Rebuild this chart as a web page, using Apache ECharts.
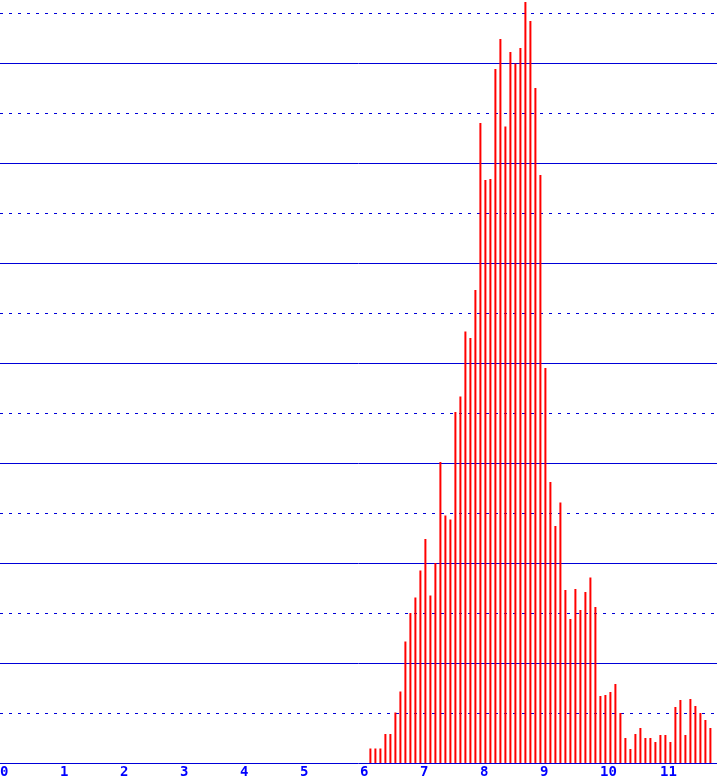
<!DOCTYPE html>
<html>
<head>
<meta charset="utf-8">
<script src="https://cdn.jsdelivr.net/npm/echarts@6/dist/echarts.min.js"></script>
<style>
  html, body { margin: 0; padding: 0; background: #fff; }
  #chart-container { width: 717px; height: 783px; }
</style>
</head>
<body>
<div id="chart-container"></div>
<script>
const chartDom = document.getElementById('chart-container');
const myChart = echarts.init(chartDom);

// bins are twelfths of a unit, first bin sits at 6 + 1/12
const firstBin = 6 + 1 / 12;
const binStep = 1 / 12;

// bar heights, in grid-line units (one gridline = 1)
const heights = [
    0.29, 0.29, 0.29, 0.58, 0.58, 1.01, 1.43, 2.43, 3.0, 3.31, 3.85,
    4.48, 3.35, 4.0, 6.02, 4.95, 4.87, 7.02, 7.33, 8.63, 8.5, 9.46, 12.8,
    11.66, 11.68, 13.88, 14.48, 12.73, 14.22, 13.99, 14.3, 15.22, 14.84, 13.5, 11.76,
    7.9, 5.62, 4.74, 5.21, 3.46, 2.88, 3.48, 3.06, 3.42, 3.71, 3.12, 1.34,
    1.36, 1.42, 1.58, 1.0, 0.5, 0.28, 0.58, 0.7, 0.5, 0.5, 0.42, 0.56,
    0.56, 0.42, 1.12, 1.26, 0.56, 1.28, 1.14, 1.0, 0.86, 0.7
];

const xTickValues = [0, 1, 2, 3, 4, 5, 6, 7, 8, 9, 10, 11];

const lineColor = '#0000d8';
const labelColor = '#0000ff';

const barData = heights.map((h, i) => [firstBin + i * binStep, h]);

const xMin = -0.09;
const xMax = 11.86;
const labelShift = 0.09; // labels start a little left of the tick
const yMax = 15.26;

const option = {
    animation: false,
    grid: { left: 0, right: 0, top: 0, bottom: 20, outerBoundsMode: 'none' },
    xAxis: [
        {
            type: 'value',
            min: xMin,
            max: xMax,
            axisLine: { show: true, lineStyle: { color: lineColor, width: 1 } },
            axisTick: { show: false },
            splitLine: { show: false },
            axisLabel: { show: false }
        },
        {
            // label-only axis, left aligned like the original
            type: 'value',
            position: 'bottom',
            min: xMin + labelShift,
            max: xMax + labelShift,
            axisLine: { show: false },
            axisTick: { show: false },
            splitLine: { show: false },
            axisLabel: {
                customValues: xTickValues,
                align: 'left',
                color: labelColor,
                fontFamily: 'DejaVu Sans Mono',
                fontWeight: 'bold',
                fontSize: 14,
                margin: 2
            }
        }
    ],
    yAxis: [
        {
            // dotted lines on every unit
            type: 'value',
            min: 0,
            max: yMax,
            interval: 1,
            axisLine: { show: false },
            axisTick: { show: false },
            axisLabel: { show: false },
            splitLine: {
                show: true,
                showMinLine: false,
                showMaxLine: false,
                lineStyle: { color: lineColor, width: 1, type: [3, 6] }
            }
        },
        {
            // solid lines on every second unit
            type: 'value',
            min: 0,
            max: yMax,
            interval: 2,
            position: 'left',
            axisLine: { show: false },
            axisTick: { show: false },
            axisLabel: { show: false },
            splitLine: {
                show: true,
                showMinLine: false,
                showMaxLine: false,
                lineStyle: { color: lineColor, width: 1, type: 'solid' }
            }
        }
    ],
    series: [
        {
            type: 'bar',
            data: barData,
            barWidth: 2,
            xAxisIndex: 0,
            yAxisIndex: 0,
            silent: true,
            itemStyle: { color: '#ff0000' }
        }
    ]
};

myChart.setOption(option);
window.addEventListener('resize', () => myChart.resize());
</script>
</body>
</html>
